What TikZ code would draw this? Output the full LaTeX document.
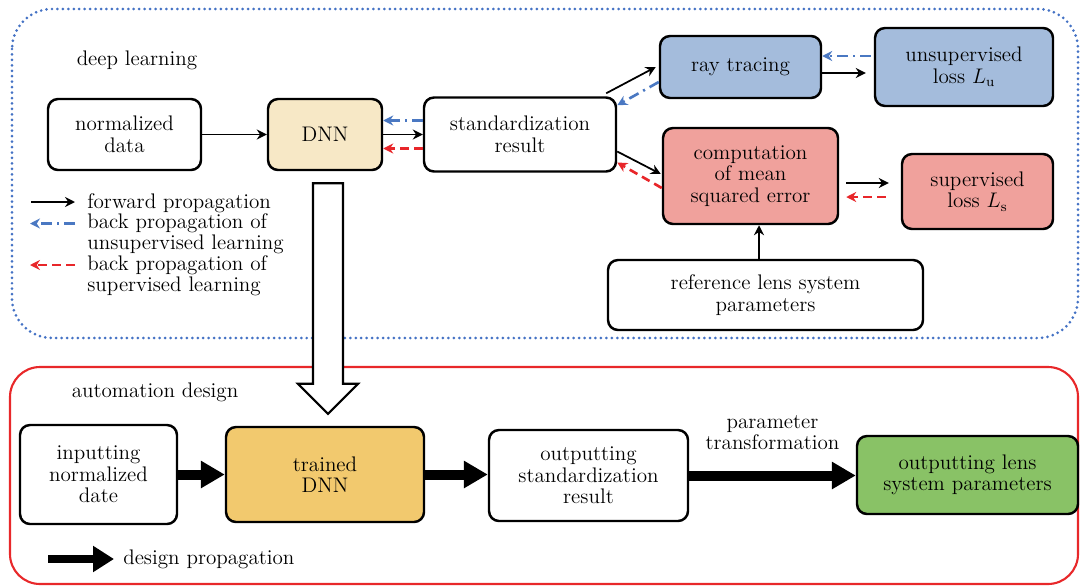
\documentclass[tikz,border=0pt]{standalone}
\usepackage{fontspec}
\usepackage{amsmath}
\usepackage{tikz}
\usetikzlibrary{arrows.meta,calc}

\definecolor{dnnbeige}{HTML}{F7E8C6}
\definecolor{trainedfill}{HTML}{F2C96E}
\definecolor{raybl}{HTML}{A4BCDC}
\definecolor{msered}{HTML}{F0A19C}
\definecolor{lensgreen}{HTML}{89C266}
\definecolor{bpblue}{HTML}{4A78C2}
\definecolor{bpred}{HTML}{E8262A}
\definecolor{frameblue}{HTML}{4472C4}
\definecolor{framered}{HTML}{E8282A}

\tikzset{
  >={Stealth[length=2mm,width=2mm]},
  block/.style={draw, line width=1.4pt, rounded corners=0.2cm, align=center, inner sep=1pt},
  forward/.style={->, line width=1pt},
  backunsup/.style={->, draw=bpblue, line width=1.5pt, dash pattern=on 6pt off 3pt on 1.2pt off 3pt},
  backsup/.style={->, draw=bpred, line width=1.5pt, dash pattern=on 5pt off 3pt},
  design/.style={line width=0.2cm, -{Triangle[length=0.48cm,width=0.52cm]}},
  legtext/.style={anchor=west, align=left, inner sep=0pt},
}

\begin{document}
\begin{tikzpicture}[font=\fontsize{12}{12.2}\selectfont]
          \useasboundingbox (0,0) rectangle (21.6,-11.72);

          % frames of the two stages
          \draw[frameblue, line width=1.7pt, line cap=round, dash pattern=on 0pt off 3.1pt, rounded corners=0.8cm] (0.24,-0.18) rectangle (21.56,-6.76);
          \draw[framered, line width=1.2pt, rounded corners=0.6cm] (0.2,-7.34) rectangle (21.56,-11.68);

          \node (DeepTitle) at (2.74,-1.20) {deep learning};
          \node (AutoTitle) at (3.10,-7.84) {automation design};

          % training part
          \node[block, minimum width=3.06cm, minimum height=1.42cm] (NormData) at (2.49,-2.69) {normalized\\data};
          \node[block, fill=dnnbeige, minimum width=2.28cm, minimum height=1.42cm] (DNN) at (6.50,-2.69) {DNN};
          \node[block, minimum width=3.84cm, minimum height=1.48cm] (Standard) at (10.40,-2.69) {standardization\\result};
          \node[block, fill=raybl, minimum width=3.22cm, minimum height=1.24cm] (RayTracing) at (14.81,-1.34) {ray tracing};
          \node[block, fill=raybl, minimum width=3.56cm, minimum height=1.56cm] (UnsupLoss) at (19.28,-1.34) {unsupervised\\loss $L_{\mathrm{u}}$};
          \node[block, fill=msered, minimum width=3.50cm, minimum height=1.92cm] (MSE) at (15.01,-3.52) {computation\\of mean\\squared error};
          \node[block, fill=msered, minimum width=3.02cm, minimum height=1.50cm] (SupLoss) at (19.55,-3.83) {supervised\\loss $L_{\mathrm{s}}$};
          \node[block, minimum width=6.30cm, minimum height=1.40cm] (RefLens) at (15.31,-5.90) {reference lens system\\parameters};

          \draw[forward] (NormData) -- (DNN);
          \draw[forward] (DNN) -- (Standard);
          \draw[backunsup] ([yshift=0.28cm]Standard.west) -- ([yshift=0.28cm]DNN.east);
          \draw[backsup] ([yshift=-0.28cm]Standard.west) -- ([yshift=-0.28cm]DNN.east);
          \draw[forward] ([xshift=-0.22cm,yshift=0.06cm]Standard.north east) -- ([xshift=-0.06cm]RayTracing.west);
          \draw[backunsup] ([yshift=-0.3cm]RayTracing.west) -- ([yshift=-0.18cm]Standard.north east);
          \draw[forward] ([yshift=-0.34cm]Standard.east) -- ([xshift=-0.02cm,yshift=0.04cm]MSE.west);
          \draw[backsup] ([yshift=-0.24cm]MSE.west) -- ([yshift=-0.56cm]Standard.east);
          \draw[forward, shorten >=0.16cm] ([yshift=-0.12cm]RayTracing.east) -- ([yshift=-0.12cm]UnsupLoss.west);
          \draw[backunsup, shorten <=0.06cm] ([yshift=0.22cm]UnsupLoss.west) -- ([yshift=0.22cm]RayTracing.east);
          \draw[forward, shorten <=0.14cm, shorten >=0.24cm] ($(MSE.east)+(0,-0.14)$) -- ($(MSE.east -| SupLoss.west)+(0,-0.14)$);
          \draw[backsup, shorten <=0.3cm, shorten >=0.14cm] ($(MSE.east -| SupLoss.west)+(0,-0.42)$) -- ($(MSE.east)+(0,-0.42)$);
          \draw[forward] ($(RefLens.north)+(-0.13,0)$) -- ($(RefLens.north |- MSE.south)+(-0.13,0)$);

          % legend
          \node[legtext] (LegFwd) at (1.74,-4.06) {forward propagation};
          \node[legtext] (LegUnsup) at (1.74,-4.67) {back propagation of\\unsupervised learning};
          \node[legtext] (LegSup) at (1.74,-5.52) {back propagation of\\supervised learning};
          \draw[forward] ($(LegFwd.west)+(-1.12,0.02)$) -- ($(LegFwd.west)+(-0.24,0.02)$);
          \draw[backunsup] ($(LegUnsup.west)+(-0.24,0.2)$) -- ($(LegUnsup.west)+(-1.14,0.2)$);
          \draw[backsup] ($(LegSup.west)+(-0.24,0.22)$) -- ($(LegSup.west)+(-1.14,0.22)$);

          % design part
          \node[block, minimum width=3.14cm, minimum height=1.98cm] (InNorm) at (1.97,-9.49) {inputting\\normalized\\date};
          \node[block, fill=trainedfill, minimum width=3.96cm, minimum height=1.90cm] (TrainedDNN) at (6.50,-9.49) {trained\\DNN};
          \node[block, minimum width=3.98cm, minimum height=1.82cm] (OutStd) at (11.77,-9.51) {outputting\\standardization\\result};
          \node[block, fill=lensgreen, minimum width=4.42cm, minimum height=1.56cm] (OutLens) at (19.35,-9.50) {outputting lens\\system parameters};

          \draw[design] (InNorm) -- (TrainedDNN);
          \draw[design] (TrainedDNN.east) -- (TrainedDNN.east -| OutStd.west);
          \draw[design] (OutStd.east) -- (OutStd.east -| OutLens.west) node[midway, above=0.3cm, align=center] (ParamLabel) {parameter\\transformation};

          \node[legtext] (LegDesign) at (2.46,-11.18) {design propagation};
          \draw[design, line width=0.16cm, -{Triangle[length=0.42cm,width=0.5cm]}] ($(LegDesign.west)+(-1.5,0)$) -- ($(LegDesign.west)+(-0.18,0)$);

          % trained network handed over (hollow arrow)
          \coordinate (HandTop) at ($(DNN.south)+(0.06,-0.24)$);
          \coordinate (HandTip) at ($(TrainedDNN.north)+(0.06,0.24)$);
          \draw[line width=1.2pt, fill=white] ($(HandTop)+(-0.3,0)$) -- ($(HandTip)+(-0.3,0.6)$) -- ($(HandTip)+(-0.6,0.6)$) -- (HandTip)
            -- ($(HandTip)+(0.6,0.6)$) -- ($(HandTip)+(0.3,0.6)$) -- ($(HandTop)+(0.3,0)$) -- cycle;
        \end{tikzpicture}
\end{document}
